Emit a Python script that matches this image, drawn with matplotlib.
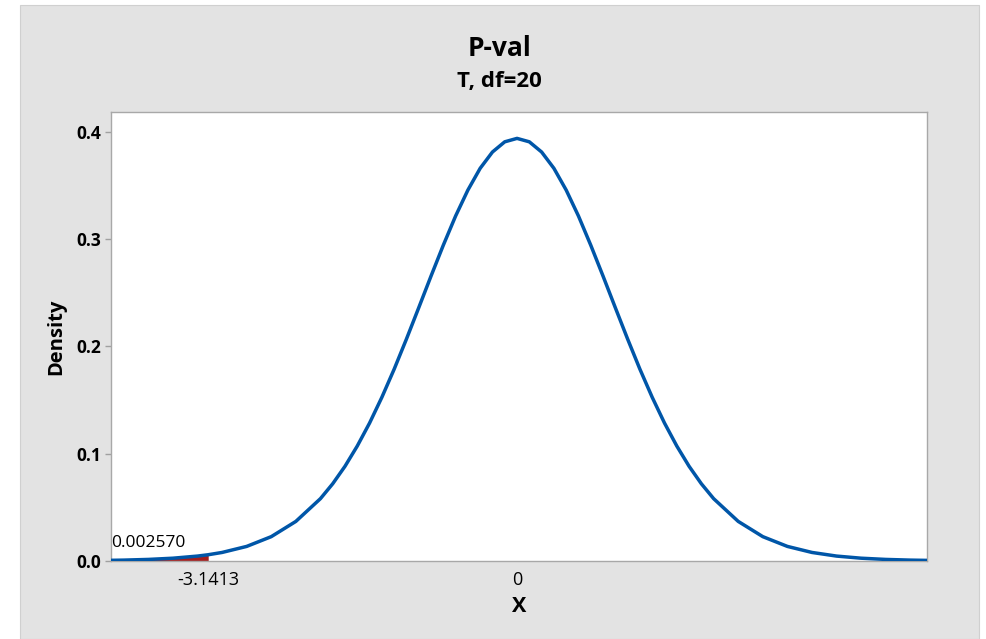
#!/usr/bin/env python3
# -*- coding: utf-8 -*-

import matplotlib
matplotlib.use("Agg")
import matplotlib.pyplot as plt
from matplotlib.patches import Rectangle

# Values (T distribution, df=20)
x_values = [-4.25, -4.0, -3.75, -3.5, -3.25, -3.1413, -3.0, -2.75, -2.5, -2.25,
            -2.0, -1.875, -1.75, -1.625, -1.5, -1.375, -1.25, -1.125, -1.0,
            -0.875, -0.75, -0.625, -0.5, -0.375, -0.25, -0.125, 0.0,
            0.125, 0.25, 0.375, 0.5, 0.625, 0.75, 0.875, 1.0, 1.125, 1.25,
            1.375, 1.5, 1.625, 1.75, 1.875, 2.0, 2.25, 2.5, 2.75, 3.0,
            3.25, 3.5, 3.75, 4.0, 4.25]
density = [0.00046, 0.00082, 0.00147, 0.00261, 0.00459, 0.00584, 0.00797,
           0.0136, 0.0227, 0.0369, 0.0581, 0.0720, 0.0883, 0.1072, 0.1286,
           0.1526, 0.1788, 0.2069, 0.2361, 0.2656, 0.2944, 0.3216, 0.3458,
           0.3661, 0.3813, 0.3908, 0.3940,
           0.3908, 0.3813, 0.3661, 0.3458, 0.3216, 0.2944, 0.2656, 0.2361,
           0.2069, 0.1788, 0.1526, 0.1286, 0.1072, 0.0883, 0.0720, 0.0581,
           0.0369, 0.0227, 0.0136, 0.00797, 0.00459, 0.00261, 0.00147,
           0.00082, 0.00046]
critical_value = -3.1413
p_value_label = "0.002570"
x_ticks = [-3.1413, 0]
x_tick_labels = ["-3.1413", "0"]
y_ticks = [0.0, 0.1, 0.2, 0.3, 0.4]

FONT = ["Open Sans", "DejaVu Sans"]


def main():
    plt.rcParams['font.family'] = FONT
    fig = plt.figure(figsize=(9.87, 6.39), dpi=100, facecolor="white")

    # gray panel behind the plot, like Minitab
    fig.patches.append(Rectangle((20 / 987, 0), 959 / 987, 634 / 639,
                                 transform=fig.transFigure,
                                 facecolor="#e3e3e3", edgecolor="#d0d0d0",
                                 linewidth=0.8, zorder=-5))

    ax = fig.add_axes([111 / 987, 78 / 639, 816 / 987, 449 / 639])
    ax.set_facecolor("white")

    tail_x = [x for x in x_values if x <= critical_value]
    tail_y = [d for x, d in zip(x_values, density) if x <= critical_value]
    ax.fill_between(tail_x, 0, tail_y, color="#a51d1d", linewidth=0, zorder=2)
    ax.plot(x_values, density, color="#0056a8", linewidth=2.5, zorder=3,
            solid_joinstyle="round")

    ax.set_xlim(-4.13, 4.17)
    ax.set_ylim(0, 0.4186)

    ax.set_xticks(x_ticks)
    ax.set_xticklabels(x_tick_labels, fontsize=13)
    ax.tick_params(axis="x", length=0, pad=7)
    ax.set_yticks(y_ticks)
    ax.set_yticklabels(["%.1f" % v for v in y_ticks], fontsize=12.5,
                       fontweight="bold")
    ax.tick_params(axis="y", length=4, width=1, color="#a0a0a0", pad=3)

    for spine in ax.spines.values():
        spine.set_color("#a8a8a8")
        spine.set_linewidth(1.0)

    ax.set_xlabel("X", fontsize=15.5, fontweight="bold", labelpad=5)
    ax.set_ylabel("Density", fontsize=14.5, fontweight="bold", labelpad=7)

    ax.text(0.0, 0.022, p_value_label, transform=ax.transAxes,
            fontsize=12.5, ha="left", va="bottom")

    fig.text(500 / 987, 1 - 48 / 639, "P-val", fontsize=19, fontweight="bold",
             ha="center", va="center")
    fig.text(499 / 987, 1 - 82 / 639, "T, df=20", fontsize=16,
             fontweight="bold", ha="center", va="center")

    fig.savefig("out.png", dpi=100, facecolor=fig.get_facecolor())


if __name__ == "__main__":
    main()
